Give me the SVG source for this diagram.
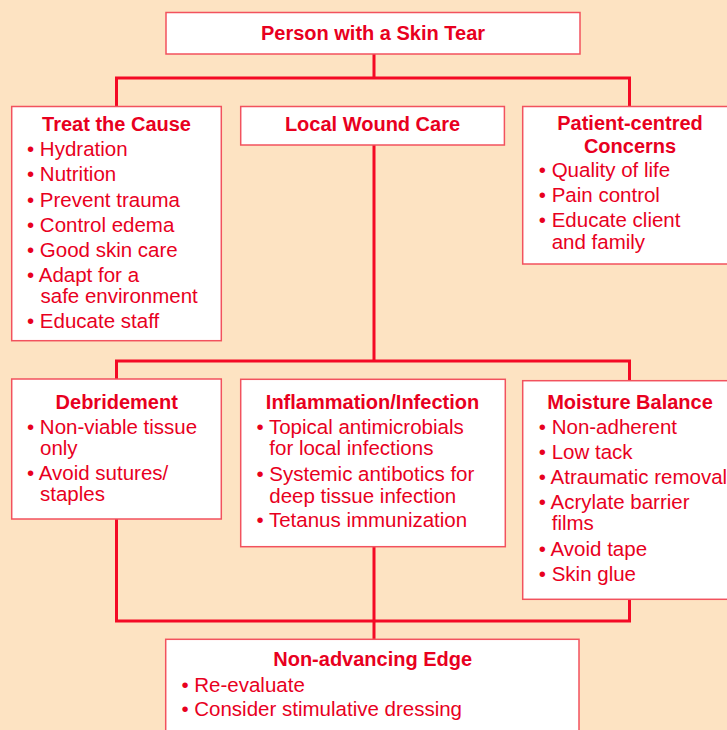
<svg xmlns="http://www.w3.org/2000/svg" width="727" height="730" viewBox="0 0 727 730">
<style>
.bg{fill:#fde3c2}
.box{fill:#ffffff;stroke:#f2525e;stroke-width:1.5}
.con{fill:none;stroke:#f40a25;stroke-width:3}
text{font-family:"Liberation Sans",Arial,sans-serif;fill:#e8001e}
.t{font-weight:bold;font-size:20px;text-anchor:middle}
.i{font-size:20.5px}
</style>
<rect class="bg" x="0" y="0" width="727" height="730"/>
<g id="connectors">
<path class="con" d="M374 54 V78 M116.5 106 V78 H629.5 V106"/>
<path class="con" d="M374 145 V361 M116.5 379 V361 H629.5 V380"/>
<path class="con" d="M374 547 V639 M116.5 519 V621 H629.5 V599"/>
</g>
<g id="skin-tear">
<rect class="box" x="166" y="12.5" width="414" height="41.5"/>
<text class="t" x="373" y="40">Person with a Skin Tear</text>
</g>
<g id="treat-cause">
<rect class="box" x="11.7" y="106.5" width="209.6" height="234.2"/>
<text class="t" x="116.5" y="130.7">Treat the Cause</text>
<text class="i" x="27" y="156">• Hydration</text>
<text class="i" x="27" y="180.7">• Nutrition</text>
<text class="i" x="27" y="206.7">• Prevent trauma</text>
<text class="i" x="27" y="231.7">• Control edema</text>
<text class="i" x="27" y="256.7">• Good skin care</text>
<text class="i" x="27" y="281.7">• Adapt for a</text>
<text class="i" x="40.5" y="302.5">safe environment</text>
<text class="i" x="27" y="328.3">• Educate staff</text>
</g>
<g id="local-wound-care">
<rect class="box" x="240.7" y="106.5" width="263.7" height="38.5"/>
<text class="t" x="372.5" y="130.7">Local Wound Care</text>
</g>
<g id="patient-centred">
<rect class="box" x="522.7" y="106.5" width="214" height="157.5"/>
<text class="t" x="630" y="130">Patient-centred</text>
<text class="t" x="630" y="152.7">Concerns</text>
<text class="i" x="538.8" y="177.3">• Quality of life</text>
<text class="i" x="538.8" y="201.7">• Pain control</text>
<text class="i" x="538.8" y="227.3">• Educate client</text>
<text class="i" x="551.7" y="248.5">and family</text>
</g>
<g id="debridement">
<rect class="box" x="11.7" y="379" width="209.6" height="140"/>
<text class="t" x="116.7" y="409.3">Debridement</text>
<text class="i" x="27" y="434">• Non-viable tissue</text>
<text class="i" x="40" y="455">only</text>
<text class="i" x="27" y="480">• Avoid sutures/</text>
<text class="i" x="40" y="501">staples</text>
</g>
<g id="inflammation-infection">
<rect class="box" x="240.7" y="379.3" width="264.6" height="167.4"/>
<text class="t" x="372.5" y="409.3">Inflammation/Infection</text>
<text class="i" x="256.4" y="434">• Topical antimicrobials</text>
<text class="i" x="269.3" y="455">for local infections</text>
<text class="i" x="256.4" y="481.4">• Systemic antibotics for</text>
<text class="i" x="269.3" y="502.6">deep tissue infection</text>
<text class="i" x="256.4" y="526.9">• Tetanus immunization</text>
</g>
<g id="moisture-balance">
<rect class="box" x="522.7" y="380.7" width="214" height="218.6"/>
<text class="t" x="630" y="409.3">Moisture Balance</text>
<text class="i" x="538.8" y="434">• Non-adherent</text>
<text class="i" x="538.8" y="459.3">• Low tack</text>
<text class="i" x="538.8" y="484.3">• Atraumatic removal</text>
<text class="i" x="538.8" y="509.3">• Acrylate barrier</text>
<text class="i" x="551.7" y="530.2">films</text>
<text class="i" x="538.8" y="555.7">• Avoid tape</text>
<text class="i" x="538.8" y="581">• Skin glue</text>
</g>
<g id="non-advancing-edge">
<rect class="box" x="165.7" y="639.3" width="413.3" height="100"/>
<text class="t" x="372.7" y="666">Non-advancing Edge</text>
<text class="i" x="181.4" y="691.7">• Re-evaluate</text>
<text class="i" x="181.4" y="716">• Consider stimulative dressing</text>
</g>
</svg>
